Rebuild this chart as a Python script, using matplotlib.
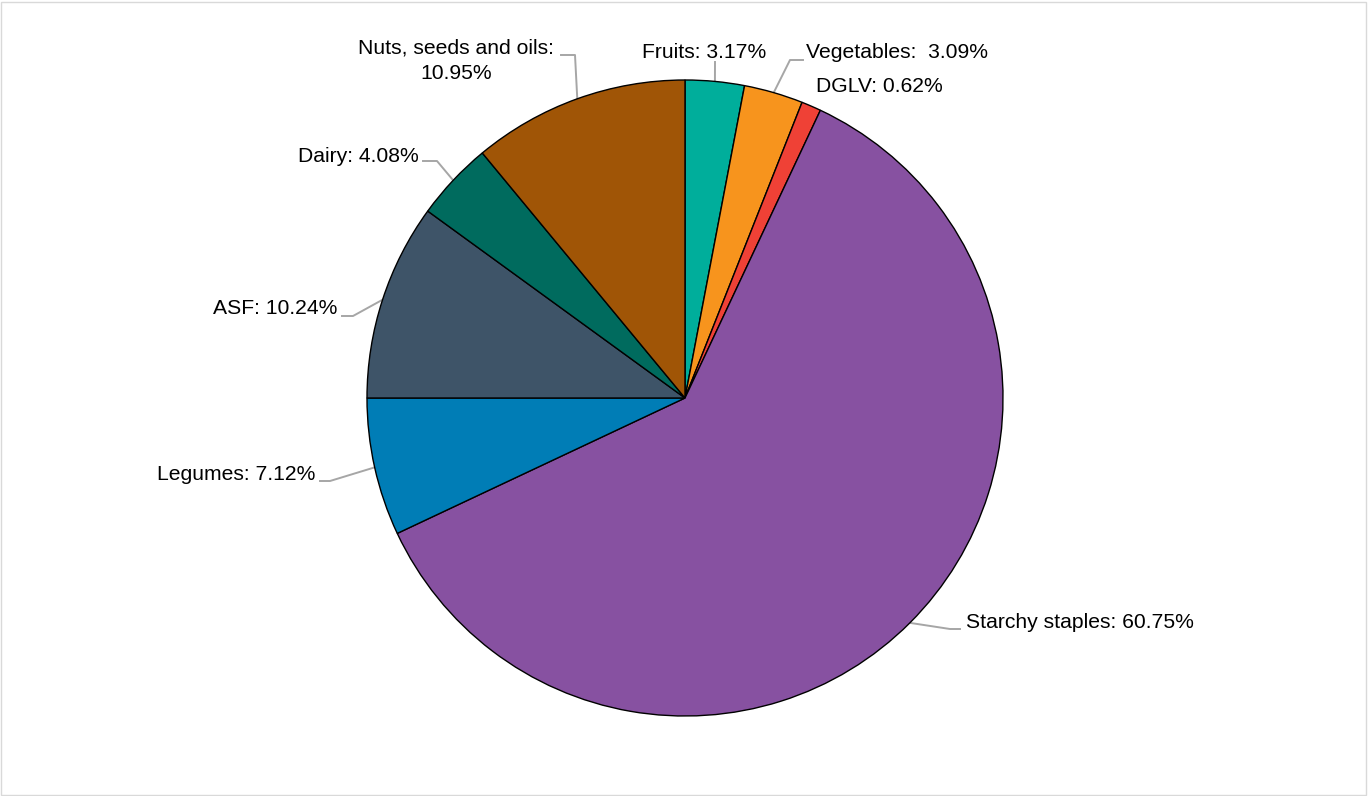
import numpy as np
import matplotlib
matplotlib.use("Agg")
import matplotlib.pyplot as plt
from matplotlib.patches import Rectangle

plt.rcParams['font.family'] = ['Liberation Sans', 'DejaVu Sans']

categories = ["Fruits", "Vegetables", "DGLV", "Starchy staples", "Legumes",
              "ASF", "Dairy", "Nuts, seeds and oils"]
values = [3.17, 3.09, 0.62, 60.75, 7.12, 10.24, 4.08, 10.95]
# the reference pie's slice angles follow the values rounded to whole percents
slice_values = np.round(values)
colors = ["#00AE9B", "#F7941D", "#EF4136", "#8751A1", "#007DB6",
          "#3E5468", "#006B5E", "#A05506"]
label_texts = ["Fruits: 3.17%", "Vegetables:  3.09%", "DGLV: 0.62%",
               "Starchy staples: 60.75%", "Legumes: 7.12%", "ASF: 10.24%",
               "Dairy: 4.08%", "Nuts, seeds and oils:\n10.95%"]

W, H = 1368, 796
fig = plt.figure(figsize=(W / 100, H / 100), dpi=100)
ax = fig.add_axes([0, 0, 1, 1])

def P(x, y):
    return (x, H - y)

cx, cy = P(685, 398)
R = 318
wedges, _ = ax.pie(slice_values, colors=colors, startangle=90, counterclock=False,
                   center=(cx, cy), radius=R, frame=True,
                   wedgeprops=dict(edgecolor='black', linewidth=1.0))
ax.set_xlim(0, W)
ax.set_ylim(0, H)
ax.axis('off')

# layout: text position (px), ha, leader points (px) from label toward edge
layout = [
    ((642, 52), 'left', [(715, 62)]),
    ((806, 53), 'left', [(803, 60), (790, 60)]),
    ((816, 86), 'left', None),
    ((966, 622), 'left', [(960, 629), (950, 629)]),
    ((315, 475), 'right', [(320, 481), (330, 481)]),
    ((337, 309), 'right', [(342, 316), (353, 316)]),
    ((419, 156), 'right', [(423, 161), (437, 161)]),
    ((456, 61), 'center', [(561, 55), (575, 55)]),
]

for w, txt, (pos, ha, pts) in zip(wedges, label_texts, layout):
    ax.text(*P(*pos), txt, ha=ha, va='center', fontsize=15.2,
            color='#000000', linespacing=1.45)
    if pts:
        mid = np.deg2rad((w.theta1 + w.theta2) / 2)
        ex, ey = cx + R * np.cos(mid), cy + R * np.sin(mid)
        xs = [P(*p)[0] for p in pts] + [ex]
        ys = [P(*p)[1] for p in pts] + [ey]
        ax.plot(xs, ys, color='#A6A6A6', linewidth=1.4, zorder=0.5)

fig.patches.append(Rectangle((1, 1), W - 3, H - 3, transform=None,
                             fill=False, edgecolor='#D9D9D9', linewidth=1))

fig.savefig("out.png", dpi=100)
